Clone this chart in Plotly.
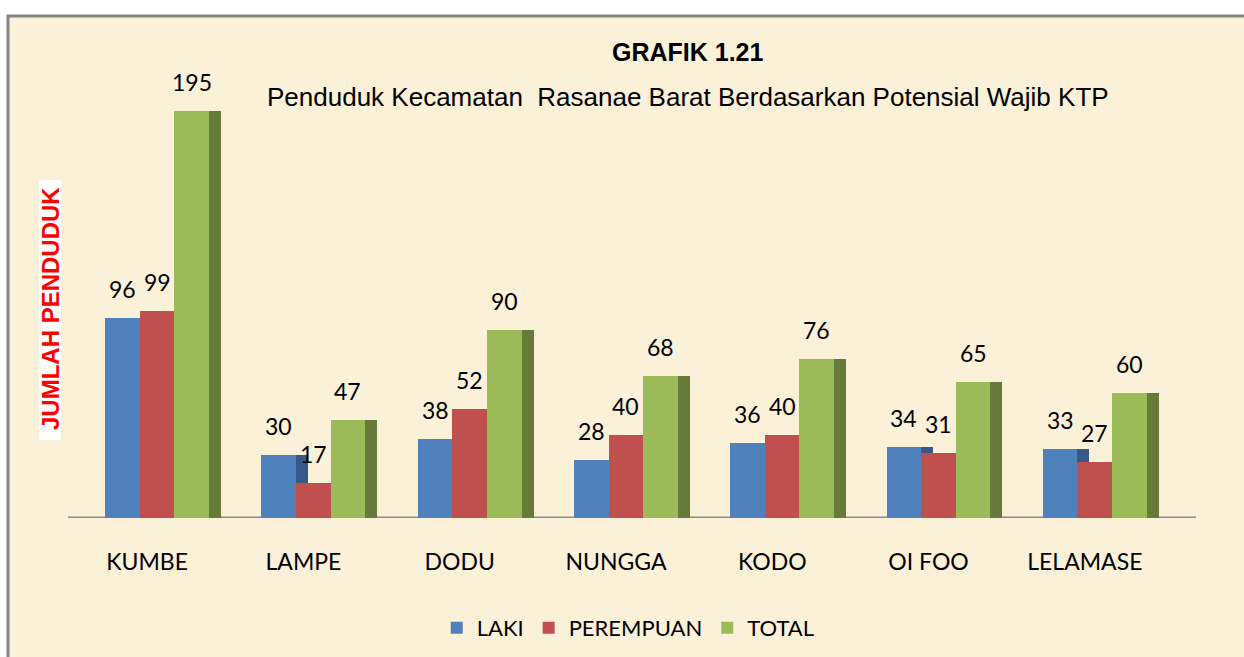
import plotly.graph_objects as go

categories = ["KUMBE", "LAMPE", "DODU", "NUNGGA", "KODO", "OI FOO", "LELAMASE"]
laki = [96, 30, 38, 28, 36, 34, 33]
perempuan = [99, 17, 52, 40, 40, 31, 27]
total = [195, 47, 90, 68, 76, 65, 60]

series = [
    ("LAKI", laki, "#4F81BD", "#36598A"),
    ("PEREMPUAN", perempuan, "#C0504D", "#8C3A38"),
    ("TOTAL", total, "#9BBB59", "#677A3A"),
]

W_PX = 156.3
fw = 34.6 / W_PX
sw = 12.0 / W_PX
start = -42.0 / W_PX

fig = go.Figure()
annotations = []
for k, (name, vals, col, dark) in enumerate(series):
    off = start + k * fw
    fig.add_trace(go.Bar(x=categories, y=vals, offset=off + fw, width=sw,
                         marker=dict(color=dark, line=dict(width=0)),
                         showlegend=False, hoverinfo="skip"))
    fig.add_trace(go.Bar(x=categories, y=vals, offset=off, width=fw, name=name,
                         marker=dict(color=col, line=dict(width=0))))
    for i, v in enumerate(vals):
        annotations.append(dict(x=i + off + fw / 2, y=v, xref="x", yref="y", text=str(v),
                                showarrow=False, yanchor="bottom", yshift=13,
                                font=dict(family="Lato, Carlito, sans-serif", size=23, color="#000000")))

# plot geometry: plot area x 69..1163, y 100..518
L, R, T, B = 69, 1244 - 1163, 100, 657 - 518
PW, PH = 1163 - 69, 518 - 100
ppu = 2.087
ymax = PH / ppu

def px(xp):
    return (xp - L) / PW

def py(yp):
    return (518 - yp) / PH

shapes = [
    dict(type="rect", xref="paper", yref="paper", x0=px(8), x1=px(1252), y0=py(16), y1=py(670),
         line=dict(color="#858585", width=3), fillcolor="#FBF0D8", layer="below"),
    dict(type="line", xref="paper", yref="y", x0=px(68), x1=px(1196), y0=0, y1=0,
         line=dict(color="#8C8C8C", width=3), layer="below"),
    dict(type="rect", xref="paper", yref="paper", x0=px(39), x1=px(61), y0=py(440), y1=py(180),
         line=dict(width=0), fillcolor="#FFFFFF", layer="below"),
]

annotations += [
    dict(xref="paper", yref="paper", x=px(688), y=py(52), xanchor="center", yanchor="middle",
         text="<b>GRAFIK 1.21</b>", showarrow=False,
         font=dict(family="Liberation Sans Narrow, Arial Narrow, Liberation Sans, sans-serif", size=25, color="#000000")),
    dict(xref="paper", yref="paper", x=px(688), y=py(97), xanchor="center", yanchor="middle",
         text="Penduduk Kecamatan  Rasanae Barat Berdasarkan Potensial Wajib KTP", showarrow=False,
         font=dict(family="Liberation Sans Narrow, Arial Narrow, Liberation Sans, sans-serif", size=26, color="#000000")),
    dict(xref="paper", yref="paper", x=px(50), y=py(309), xanchor="center", yanchor="middle",
         text="<b>JUMLAH PENDUDUK</b>", showarrow=False, textangle=-90,
         font=dict(family="Liberation Sans Narrow, Arial Narrow, Liberation Sans, sans-serif", size=24, color="#FF0000")),
]

fig.update_layout(
    width=1244, height=657,
    margin=dict(l=L, r=R, t=T, b=B, autoexpand=False),
    paper_bgcolor="#FFFFFF", plot_bgcolor="rgba(0,0,0,0)",
    barmode="overlay", bargap=0,
    shapes=shapes, annotations=annotations,
    showlegend=True,
    legend=dict(orientation="h", xref="container", yref="container", x=0.505, xanchor="center",
                y=(657 - 628) / 657, yanchor="middle", bgcolor="rgba(0,0,0,0)",
                font=dict(family="Lato, Carlito, sans-serif", size=22, color="#000000"),
                itemwidth=30, tracegroupgap=0),
    xaxis=dict(range=[-0.5, 6.5], showgrid=False, zeroline=False, showline=False, ticks="",
               tickfont=dict(family="Lato, Carlito, sans-serif", size=23, color="#000000"),
               ticklabelstandoff=28, fixedrange=True),
    yaxis=dict(range=[0, ymax], showgrid=False, zeroline=False, showline=False,
               showticklabels=False, ticks="", fixedrange=True),
)

fig.write_html("out.html", config={"displayModeBar": False},
               post_script="document.body.style.margin='0';document.body.style.overflow='hidden';")
